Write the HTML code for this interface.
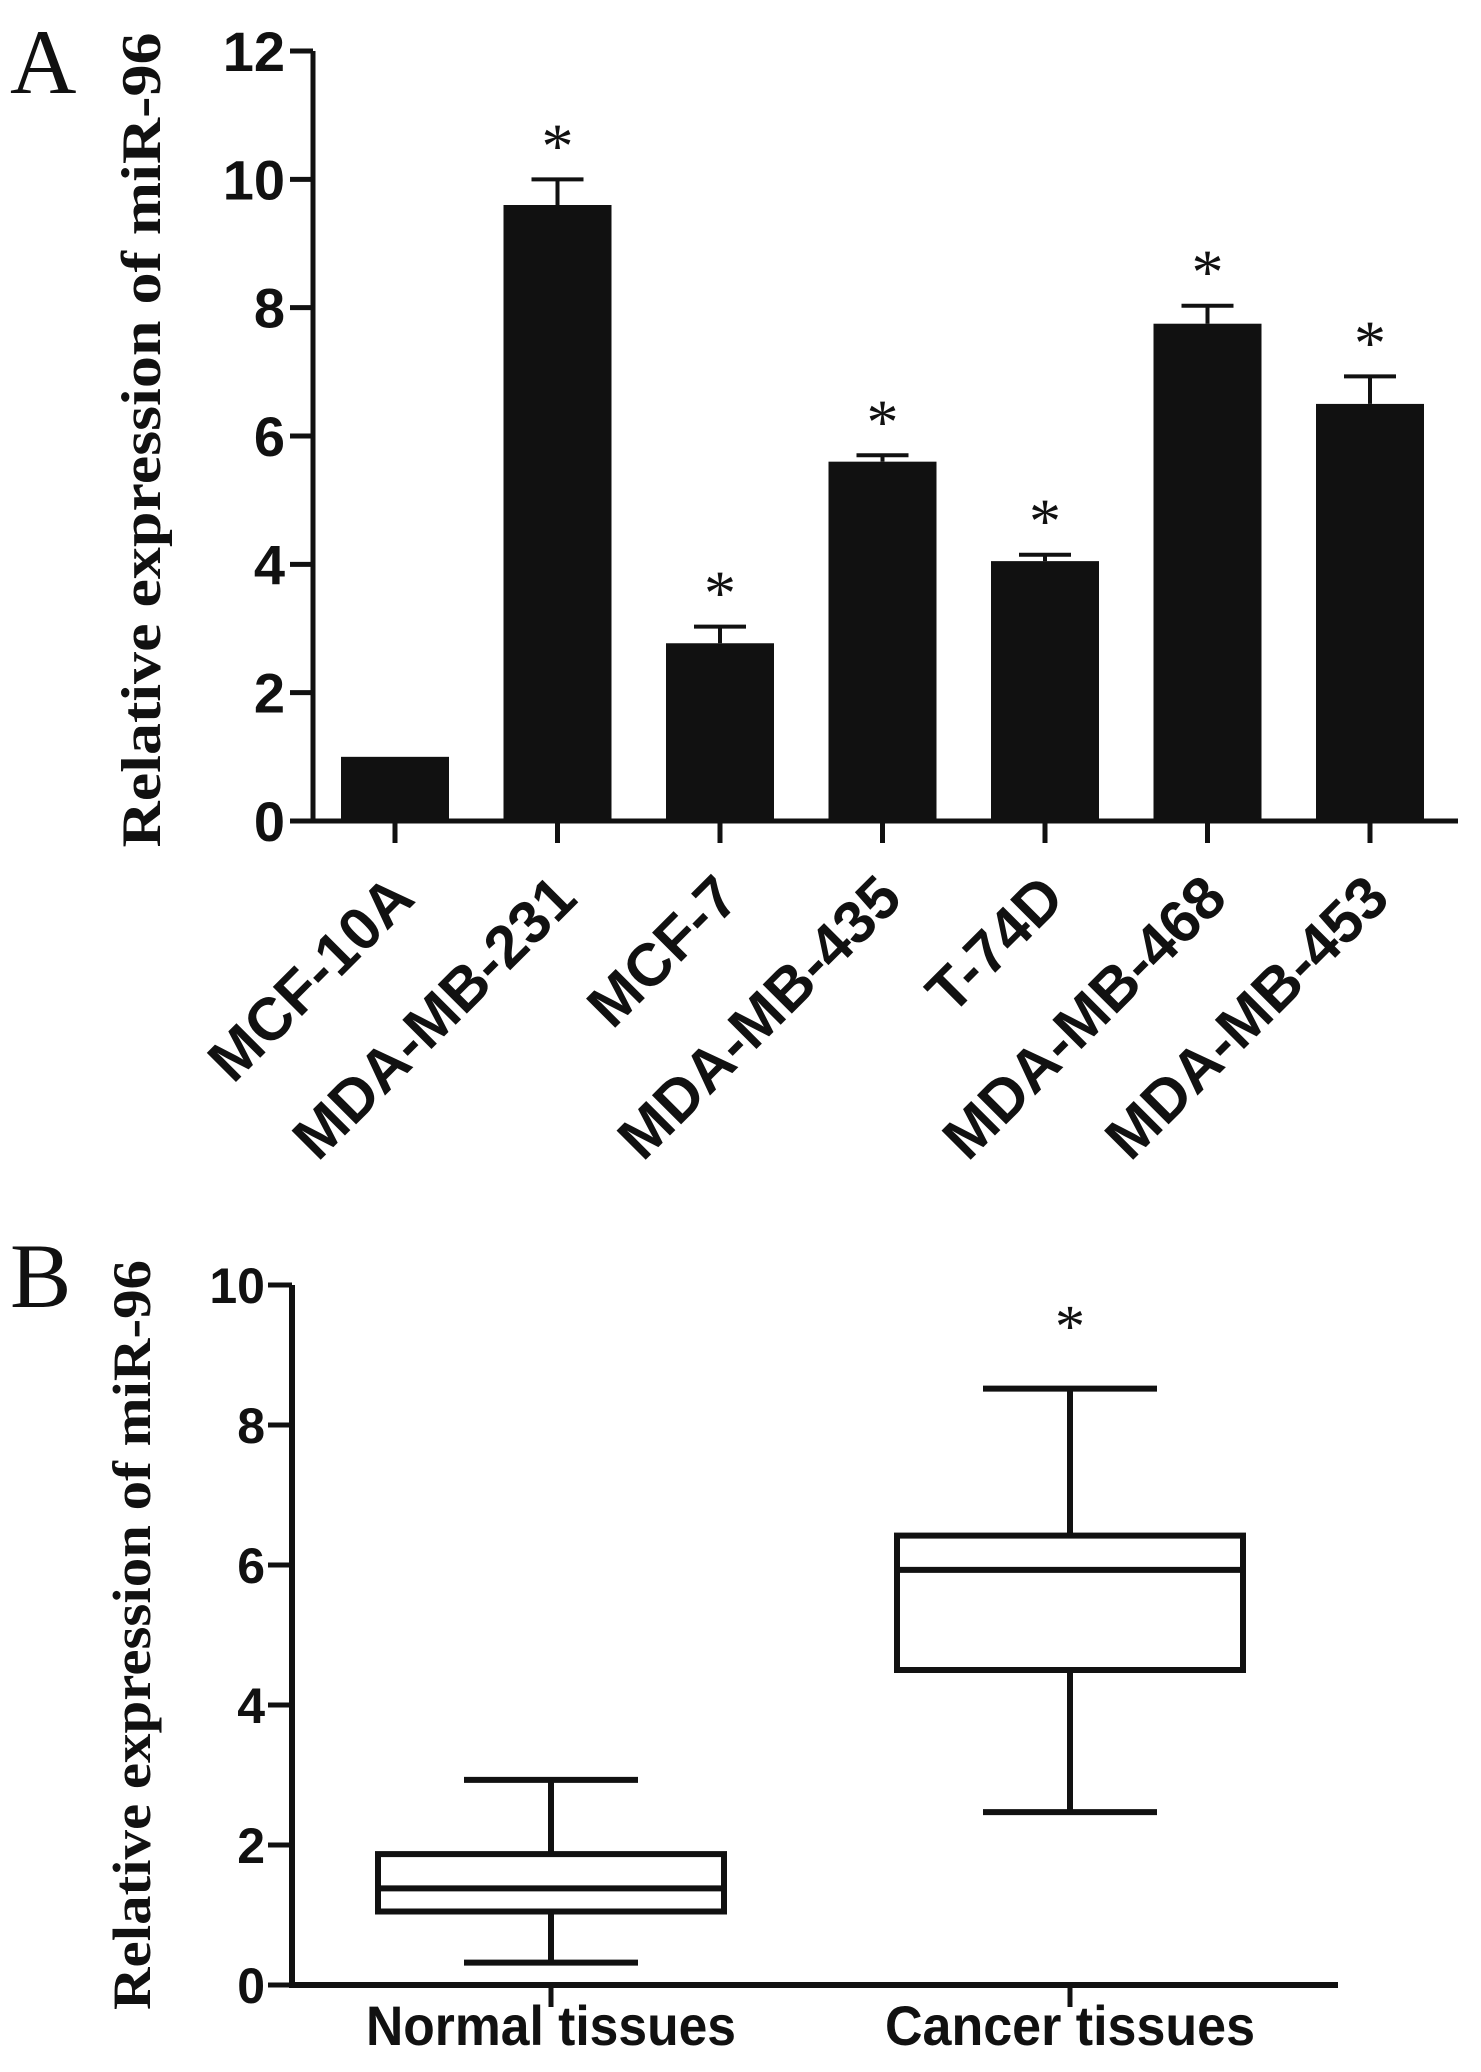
<!DOCTYPE html>
<html><head><meta charset="utf-8"><style>
html,body{margin:0;padding:0;background:#fff;}
svg{display:block;}
.tk{font-family:"Liberation Sans",Arial,sans-serif;font-weight:bold;fill:#111;}
.ti{font-family:"Liberation Serif","Times New Roman",serif;font-weight:bold;fill:#111;}
</style></head><body>
<svg id="fig" width="1481" height="2072" viewBox="0 0 1481 2072" xmlns="http://www.w3.org/2000/svg">
<text x="10" y="93" font-family="Liberation Serif, serif" font-size="92" fill="#111">A</text>
<text x="10" y="1307" font-family="Liberation Serif, serif" font-size="92" fill="#111">B</text>
<text class="ti" transform="translate(160,440) rotate(-90)" text-anchor="middle" font-size="56" textLength="815" lengthAdjust="spacingAndGlyphs">Relative expression of miR-96</text>
<text class="ti" transform="translate(150,1635) rotate(-90)" text-anchor="middle" font-size="54" textLength="750" lengthAdjust="spacingAndGlyphs">Relative expression of miR-96</text>
<g id="a"></g><g id="b"></g>
</svg>
<script>
const catsA=["MCF-10A","MDA-MB-231","MCF-7","MDA-MB-435","T-74D","MDA-MB-468","MDA-MB-453"];
const meanA=[1.0,9.6,2.77,5.6,4.05,7.75,6.5];
const errA=[0,0.4,0.26,0.1,0.1,0.28,0.43];
const sigA=[false,true,true,true,true,true,true];
const ticksA=[0,2,4,6,8,10,12];
const catsB=["Normal tissues","Cancer tissues"];
const minB=[0.32,2.47];
const q1B=[1.05,4.5];
const medB=[1.38,5.93];
const q3B=[1.87,6.42];
const maxB=[2.93,8.52];
const sigB=[false,true];
const ticksB=[0,2,4,6,8,10];
const NS="http://www.w3.org/2000/svg";
function mk(p,t,a){const e=document.createElementNS(NS,t);for(const k in a)e.setAttribute(k,a[k]);p.appendChild(e);return e;}
// Panel A
const gA=document.getElementById('a');
const yA=v=>821-(v/12)*770;
const xA=i=>395+i*162.5;
let ax=mk(gA,'path',{d:`M313 ${yA(12)} V${yA(0)} H1458`,stroke:'#111','stroke-width':5,fill:'none'});

ticksA.forEach(t=>{
 let l=mk(gA,'line',{x1:290,x2:313,y1:yA(t),y2:yA(t),stroke:'#111','stroke-width':5});
 
 let tx=mk(gA,'text',{class:'tk',x:285,y:yA(t)+20,'text-anchor':'end','font-size':56});
 tx.textContent=t;
});
catsA.forEach((c,i)=>{
 const x=xA(i);
 let r=mk(gA,'rect',{x:x-54,y:yA(meanA[i]),width:108,height:yA(0)-yA(meanA[i]),fill:'#111'});
 
 if(errA[i]>0){
  let e=mk(gA,'path',{d:`M${x} ${yA(meanA[i])} V${yA(meanA[i]+errA[i])} M${x-26} ${yA(meanA[i]+errA[i])} H${x+26}`,stroke:'#111','stroke-width':4,fill:'none'});
  
 }
 if(sigA[i]){
  let s=mk(gA,'text',{x:x,y:yA(meanA[i]+errA[i])-12,'text-anchor':'middle','font-size':64,'font-family':'Liberation Serif, serif',fill:'#111'});
  s.textContent='*';
 }
 let tk=mk(gA,'line',{x1:x,x2:x,y1:yA(0),y2:yA(0)+22,stroke:'#111','stroke-width':5});
 
 let lb=mk(gA,'text',{class:'tk','text-anchor':'end','font-size':60,transform:`translate(${x+22},${yA(0)+80}) rotate(-45)`});
 lb.textContent=c;
});
// Panel B
const gB=document.getElementById('b');
const yB=v=>1985-(v/10)*700;
const xB=i=>551+i*519;
let bx=mk(gB,'path',{d:`M292 ${yB(10)} V${yB(0)} H1338`,stroke:'#111','stroke-width':6,fill:'none'});

ticksB.forEach(t=>{
 let l=mk(gB,'line',{x1:268,x2:292,y1:yB(t),y2:yB(t),stroke:'#111','stroke-width':5});
 
 let tx=mk(gB,'text',{class:'tk',x:265,y:yB(t)+18,'text-anchor':'end','font-size':50});
 tx.textContent=t;
});
catsB.forEach((c,i)=>{
 const x=xB(i),hw=173,cw=87;
 let w=mk(gB,'path',{d:`M${x} ${yB(maxB[i])} V${yB(q3B[i])} M${x} ${yB(q1B[i])} V${yB(minB[i])} M${x-cw} ${yB(maxB[i])} H${x+cw} M${x-cw} ${yB(minB[i])} H${x+cw}`,stroke:'#111','stroke-width':6,fill:'none'});
 
 let r=mk(gB,'rect',{x:x-hw,y:yB(q3B[i]),width:2*hw,height:yB(q1B[i])-yB(q3B[i]),stroke:'#111','stroke-width':6,fill:'none'});
 
 let m=mk(gB,'line',{x1:x-hw,x2:x+hw,y1:yB(medB[i]),y2:yB(medB[i]),stroke:'#111','stroke-width':6});
 
 if(sigB[i]){
  let s=mk(gB,'text',{x:x,y:yB(maxB[i])-42,'text-anchor':'middle','font-size':60,'font-family':'Liberation Serif, serif',fill:'#111'});
  s.textContent='*';
 }
 let tk=mk(gB,'line',{x1:x,x2:x,y1:yB(0),y2:yB(0)+22,stroke:'#111','stroke-width':5});
 
 let lb=mk(gB,'text',{class:'tk',x:x,y:2045,'text-anchor':'middle','font-size':56,textLength:370,lengthAdjust:'spacingAndGlyphs'});
 lb.textContent=c;
});
</script>
</body></html>
